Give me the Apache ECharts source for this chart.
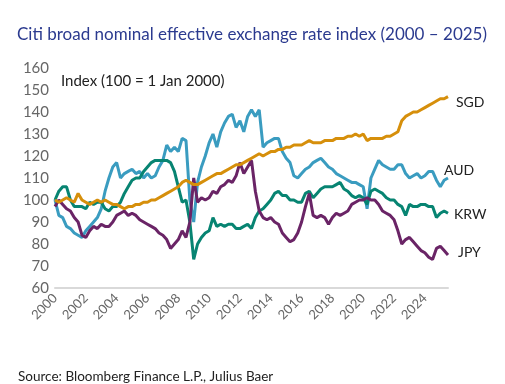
<!DOCTYPE html>
<html>
<head>
<meta charset="utf-8">
<script src="https://cdn.jsdelivr.net/npm/echarts@6/dist/echarts.min.js"></script>
<style>
html,body{margin:0;padding:0;background:#fff;}
#c{width:505px;height:384px;}
</style>
</head>
<body>
<div id="c"></div>
<script>
// Quarterly observations starting Jan 2000
const startYear = 2000;
const stepYears = 0.25;
const yTicks = [60, 70, 80, 90, 100, 110, 120, 130, 140, 150, 160];
const xTickYears = [2000, 2002, 2004, 2006, 2008, 2010, 2012, 2014, 2016, 2018, 2020, 2022, 2024];

const SGD = [
 100, 99, 100, 101,
 100, 99, 103, 100,
 99, 98, 99, 100,
 99, 100, 99, 98,
 98, 97, 96, 97,
 97, 98, 98, 99,
 99, 100, 100, 101,
 102, 103, 104, 105,
 106, 108, 109, 108,
 107, 107, 108, 109,
 110, 111, 112, 112,
 113, 114, 115, 116,
 116, 117, 118, 119,
 120, 121, 120, 121,
 122, 122, 123, 123,
 124, 124, 125, 125,
 125, 126, 127, 126,
 126, 126, 127, 127,
 127, 128, 128, 128,
 129, 129, 130, 129,
 130, 127, 128, 128,
 128, 128, 129, 129,
 130, 131, 136, 138,
 139, 140, 140, 141,
 142, 143, 144, 145,
 146, 146, 147
];
const AUD = [
 100, 93, 92, 88,
 87, 85, 84, 83,
 86, 88, 90, 92,
 96, 104, 110, 115,
 117, 110, 112, 113,
 114, 112, 113, 110,
 112, 110, 111, 115,
 118, 125, 122, 124,
 122, 128, 127, 100,
 90, 108, 115, 120,
 126, 130, 124, 131,
 135, 138, 139, 133,
 136, 131, 138, 141,
 138, 141, 124, 126,
 127, 128, 128, 122,
 119, 117, 111, 110,
 112, 114, 115, 117,
 118, 119, 117, 115,
 114, 112, 111, 110,
 109, 108, 108, 107,
 106, 96, 110, 114,
 118, 116, 115, 114,
 114, 116, 116, 112,
 110, 111, 112, 110,
 111, 113, 113, 109,
 106, 109, 110
];
const KRW = [
 100, 104, 106, 106,
 100, 97, 97, 97,
 96, 99, 98, 99,
 99, 96, 95, 97,
 97, 99, 103, 106,
 109, 110, 110, 113,
 115, 117, 118, 118,
 118, 118, 117, 113,
 106, 99, 100, 90,
 73, 80, 83, 85,
 86, 92, 88, 89,
 88, 89, 89, 87,
 87, 88, 89, 87,
 92, 95, 96, 98,
 100, 103, 104, 102,
 102, 100, 100, 99,
 99, 103, 104, 101,
 103, 105, 106, 106,
 106, 107, 108, 105,
 104, 102, 101, 102,
 101, 98, 104, 105,
 104, 103, 101, 100,
 100, 98, 97, 93,
 98, 97, 97, 98,
 98, 97, 97, 92,
 94, 95, 94
];
const JPY = [
 97, 100, 98, 96,
 95, 92, 90, 84,
 83, 86, 88, 87,
 89, 88, 88, 90,
 93, 94, 95, 93,
 94, 93, 91, 90,
 89, 88, 87, 85,
 84, 82, 78, 80,
 82, 86, 83, 90,
 110, 99, 101, 100,
 101, 104, 103, 106,
 107, 109, 108, 111,
 117, 112, 115, 118,
 104, 95, 92, 91,
 92, 90, 89, 85,
 83, 81, 82, 85,
 90, 97, 103, 93,
 92, 93, 92, 89,
 92, 94, 93, 94,
 95, 98, 99, 100,
 100, 101, 100, 100,
 98, 95, 94, 93,
 91, 86, 80, 82,
 83, 81, 79, 77,
 76, 74, 73, 78,
 79, 77, 75
];

function toPairs(arr) {
  return arr.map((v, i) => [startYear + i * stepYears, v]);
}

const font = 'Lato, "Open Sans", sans-serif';
const chart = echarts.init(document.getElementById('c'), null, {renderer: 'canvas'});

function mkSeries(name, data, color, offset) {
  return {
    name: name,
    type: 'line',
    data: toPairs(data),
    showSymbol: false,
    symbol: 'none',
    lineStyle: {color: color, width: 3},
    itemStyle: {color: color},
    animation: false,
    endLabel: {
      show: true,
      formatter: name,
      color: '#222',
      fontFamily: font,
      fontSize: 14,
      offset: offset,
      distance: 6
    }
  };
}

chart.setOption({
  animation: false,
  backgroundColor: '#fff',
  title: [{
    text: 'Citi broad nominal effective exchange rate index (2000 \u2013 2025)',
    left: 12, top: 21,
    textStyle: {color: '#2b3a8f', fontFamily: font, fontSize: 17, fontWeight: 'normal'}
  }, {
    text: 'Index (100 = 1 Jan 2000)',
    left: 56, top: 69,
    textStyle: {color: '#222', fontFamily: font, fontSize: 15, fontWeight: 'normal'}
  }, {
    text: 'Source: Bloomberg Finance L.P., Julius Baer',
    left: 13, top: 365,
    textStyle: {color: '#222', fontFamily: font, fontSize: 13.5, fontWeight: 'normal'}
  }],
  grid: {left: 55, right: 57, top: 68, bottom: 96, containLabel: false},
  xAxis: {
    type: 'value',
    min: 2000, max: 2025.5, interval: 2,
    axisLine: {show: true, lineStyle: {color: '#d9d9d9', width: 2}},
    axisTick: {show: false},
    splitLine: {show: false},
    axisLabel: {
      rotate: 45, color: '#666', fontFamily: font, fontSize: 13, margin: 8,
      showMaxLabel: false,
      formatter: v => (xTickYears.indexOf(v) >= 0 ? String(v) : '')
    }
  },
  yAxis: {
    type: 'value',
    min: yTicks[0], max: yTicks[yTicks.length - 1], interval: 10,
    axisLine: {show: false},
    axisTick: {show: false},
    splitLine: {show: false},
    axisLabel: {color: '#666', fontFamily: font, fontSize: 15, margin: 6}
  },
  series: [
    mkSeries('AUD', AUD, '#3a9cc0', [-10, -8]),
    mkSeries('KRW', KRW, '#078472', [0, 1]),
    mkSeries('JPY', JPY, '#6a2466', [4, -3]),
    mkSeries('SGD', SGD, '#d68f0b', [2, 6])
  ]
});
</script>
</body>
</html>
